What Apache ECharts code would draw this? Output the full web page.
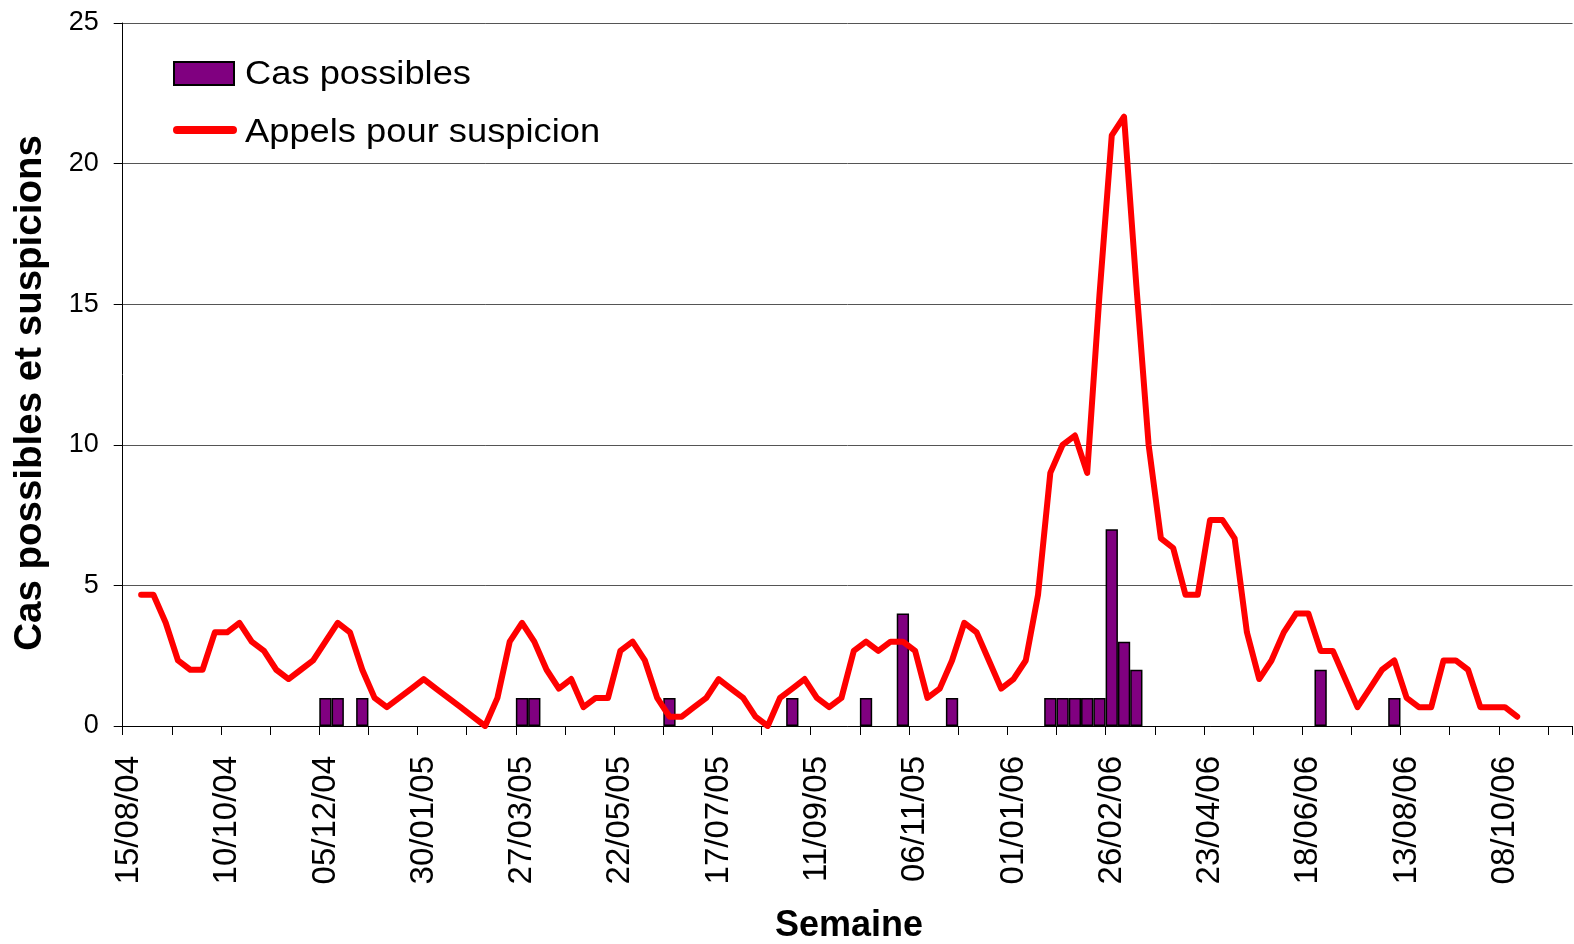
<!DOCTYPE html>
<html>
<head>
<meta charset="utf-8">
<script src="https://cdn.jsdelivr.net/npm/echarts@6/dist/echarts.min.js"></script>
<style>
  html, body { margin: 0; padding: 0; background: #fff; }
  #chart { width: 1574px; height: 944px; }
</style>
</head>
<body>
<div id="chart"></div>
<script>
// ---- Data ----
const weekCount = 118;
const firstWeek = [2004, 8, 15]; // 15/08/04, weekly categories
const casPossibles = [
  0,0,0,0,0,0,0,0,0,0,
  0,0,0,0,0,0,1,1,0,1,
  0,0,0,0,0,0,0,0,0,0,
  0,0,1,1,0,0,0,0,0,0,
  0,0,0,0,1,0,0,0,0,0,
  0,0,0,0,1,0,0,0,0,0,
  1,0,0,4,0,0,0,1,0,0,
  0,0,0,0,0,1,1,1,1,1,
  7,3,2,0,0,0,0,0,0,0,
  0,0,0,0,0,0,0,2,0,0,
  0,0,0,1,0,0,0,0,0,0,
  0,0,0,0,0,0,0,0
];
const appelsSuspicion = [
  null,4.67,4.67,3.67,2.33,2,2,3.33,3.33,3.67,
  3,2.67,2,1.67,2,2.33,3,3.67,3.33,2,
  1,0.67,1,1.33,1.67,1.33,1,0.67,0.33,0,
  1,3,3.67,3,2,1.33,1.67,0.67,1,1,
  2.67,3,2.33,1,0.33,0.33,0.67,1,1.67,1.33,
  1,0.33,0,1,1.33,1.67,1,0.67,1,2.67,
  3,2.67,3,3,2.67,1,1.33,2.33,3.67,3.33,
  2.33,1.33,1.67,2.33,4.67,9,10,10.33,9,15.33,
  21,21.67,15.67,10,6.67,6.33,4.67,4.67,7.33,7.33,
  6.67,3.33,1.67,2.33,3.33,4,4,2.67,2.67,1.67,
  0.67,1.33,2,2.33,1,0.67,0.67,2.33,2.33,2,
  0.67,0.67,0.67,0.33
];
const yTicks = [0, 5, 10, 15, 20, 25];

// ---- Build week categories ----
function pad(n) { return (n < 10 ? '0' : '') + n; }
const categories = [];
const t0 = Date.UTC(firstWeek[0], firstWeek[1] - 1, firstWeek[2]);
for (let i = 0; i < weekCount; i++) {
  const d = new Date(t0 + i * 7 * 86400000);
  categories.push(pad(d.getUTCDate()) + '/' + pad(d.getUTCMonth() + 1) + '/' + pad(d.getUTCFullYear() % 100));
}
const barData = casPossibles.map(v => (v === 0 ? '-' : v));

const FONT = "'Liberation Sans', Arial, sans-serif";
const chart = echarts.init(document.getElementById('chart'), null, { renderer: 'canvas' });
chart.setOption({
  animation: false,
  backgroundColor: '#ffffff',
  grid: { left: 122.7, right: 1.5, top: 23, bottom: 218, containLabel: false },
  xAxis: {
    type: 'category',
    data: categories,
    boundaryGap: true,
    axisLine: { lineStyle: { color: '#000', width: 1 } },
    axisTick: { show: true, interval: 3, length: 9, lineStyle: { color: '#000', width: 1 } },
    axisLabel: {
      interval: 7, rotate: 90, margin: 30,
      fontFamily: FONT, fontSize: 33, color: '#000'
    },
    splitLine: { show: false }
  },
  yAxis: {
    type: 'value',
    min: yTicks[0], max: yTicks[yTicks.length - 1], interval: 5,
    axisLine: { show: true, lineStyle: { color: '#000', width: 1 } },
    axisTick: { show: true, length: 9, lineStyle: { color: '#000', width: 1 } },
    axisLabel: { margin: 24, fontFamily: FONT, fontSize: 27, color: '#000' },
    splitLine: { show: true, lineStyle: { color: '#555', width: 1 } }
  },
  series: [
    {
      name: 'Cas possibles',
      type: 'bar',
      data: barData,
      barWidth: '100%',
      itemStyle: { color: '#800080', borderColor: '#000', borderWidth: 1.5 },
      z: 2
    },
    {
      name: 'Appels pour suspicion',
      type: 'line',
      data: appelsSuspicion,
      symbol: 'none',
      smooth: false,
      lineStyle: { color: '#ff0000', width: 6, cap: 'round', join: 'round' },
      itemStyle: { color: '#ff0000' },
      z: 3
    }
  ],
  graphic: [
    { type: 'rect', shape: { x: 174, y: 62, width: 60, height: 23 },
      style: { fill: '#800080', stroke: '#000', lineWidth: 2 } },
    { type: 'text', x: 245, y: 75, scaleX: 1.1,
      style: { text: 'Cas possibles', font: "33px " + FONT, fill: '#000', textVerticalAlign: 'middle', textAlign: 'left' } },
    { type: 'line', shape: { x1: 177, y1: 130, x2: 233, y2: 130 },
      style: { stroke: '#ff0000', lineWidth: 8, lineCap: 'round' } },
    { type: 'text', x: 245, y: 132.5, scaleX: 1.1,
      style: { text: 'Appels pour suspicion', font: "33px " + FONT, fill: '#000', textVerticalAlign: 'middle', textAlign: 'left' } },
    { type: 'text', x: 30, y: 393, rotation: Math.PI / 2,
      style: { text: 'Cas possibles et suspicions', font: "bold 38.5px " + FONT, fill: '#000', textVerticalAlign: 'middle', textAlign: 'center' } },
    { type: 'text', x: 849, y: 926,
      style: { text: 'Semaine', font: "bold 36px " + FONT, fill: '#000', textVerticalAlign: 'middle', textAlign: 'center' } }
  ]
});
</script>
</body>
</html>
